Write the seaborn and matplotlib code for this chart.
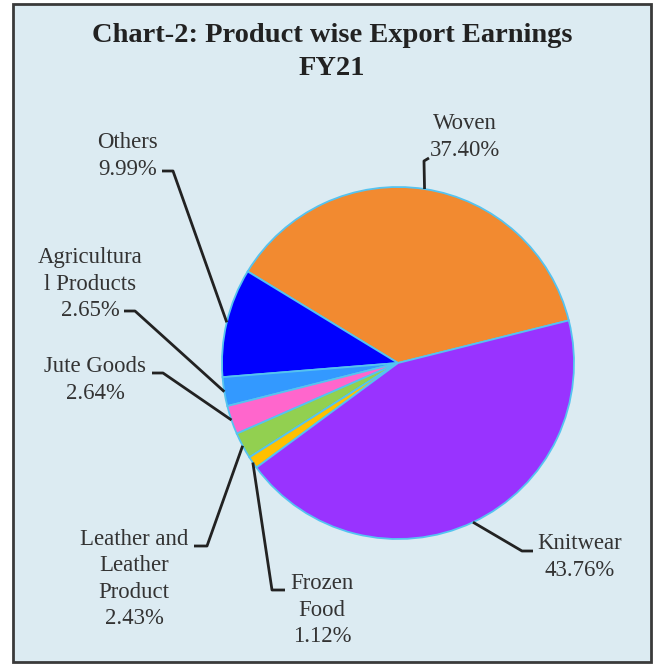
import numpy as np
import matplotlib
matplotlib.use("Agg")
import matplotlib.pyplot as plt
from matplotlib import font_manager
from matplotlib.patches import Rectangle
import seaborn as sns

# Product-wise export earnings share, FY21 (percent), in drawing order
products = ["Woven", "Others", "Agricultura\nl Products", "Jute Goods",
            "Leather and\nLeather\nProduct", "Frozen\nFood", "Knitwear"]
shares = [37.40, 9.99, 2.65, 2.64, 2.43, 1.12, 43.76]
slice_colors = ["#F28A30", "#0000FF", "#3399FF", "#FF66CC",
                "#92D050", "#FFC000", "#9933FF"]

sns.set_theme(style="white")

# register the Times-metric serif face if it is not already known
for path in font_manager.findSystemFonts():
    if "liberationserif" in path.lower().replace("-", "").replace("_", ""):
        try:
            font_manager.fontManager.addfont(path)
        except Exception:
            pass
names = {f.name for f in font_manager.fontManager.ttflist}
serif_family = next((n for n in ["Liberation Serif", "Times New Roman",
                                 "Tinos", "DejaVu Serif"] if n in names),
                    "serif")
plt.rcParams["font.family"] = [serif_family, "DejaVu Serif"]

W, H = 660, 665
fig = plt.figure(figsize=(W / 100, H / 100), dpi=100)
fig.patch.set_facecolor("white")
ax = fig.add_axes([0, 0, 1, 1])
ax.set_facecolor("none")

# framed light-blue panel
ax.add_patch(Rectangle((13, H - 662), 638, 658, facecolor="#DCEBF2",
                       edgecolor="#3A3A3A", linewidth=2.0, zorder=0))

cx, cy, r = 398, H - 363, 176
palette = sns.color_palette(slice_colors)
wedges, _ = ax.pie(shares, colors=palette, startangle=14, counterclock=True,
                   center=(cx, cy), radius=r,
                   wedgeprops=dict(edgecolor="#55C3F0", linewidth=1.3))
for w in wedges:
    w.set_zorder(2)

ax.set_xlim(0, W)
ax.set_ylim(0, H)
ax.set_aspect("equal")
ax.axis("off")

# label block centres, leader elbow and leader end (pixel layout, y from top)
label_pos = [(465, 137), (128, 156), (90, 284), (95, 380),
             (134, 579), (322, 610), (580, 557)]
elbows = [(424, 161), (173, 171), (135, 311), (163, 373),
          (207, 546), (272, 590), (522, 551)]
ends = [(429, 158), (162, 171), (124, 311), (152, 373),
        (194, 546), (285, 590), (533, 551)]

for w, name, val, (lx, ly), (ex, ey), (tx, ty) in zip(
        wedges, products, shares, label_pos, elbows, ends):
    mid = np.deg2rad((w.theta1 + w.theta2) / 2)
    rx, ry = cx + r * np.cos(mid), cy + r * np.sin(mid)
    ax.plot([rx, ex, tx], [ry, H - ey, H - ty], color="#222222",
            linewidth=2.0, solid_capstyle="butt", zorder=3)
    ax.text(lx, H - ly, f"{name}\n{val:.2f}%", ha="center", va="center",
            multialignment="center", fontsize=16.4, color="#333333",
            linespacing=1.33, zorder=4)

ax.text(332, H - 52, "Chart-2: Product wise Export Earnings\nFY21",
        ha="center", va="center", multialignment="center",
        fontsize=20.5, fontweight="bold", color="#222222",
        linespacing=1.45, zorder=4)

fig.savefig("out.png", dpi=100, facecolor=fig.get_facecolor())
